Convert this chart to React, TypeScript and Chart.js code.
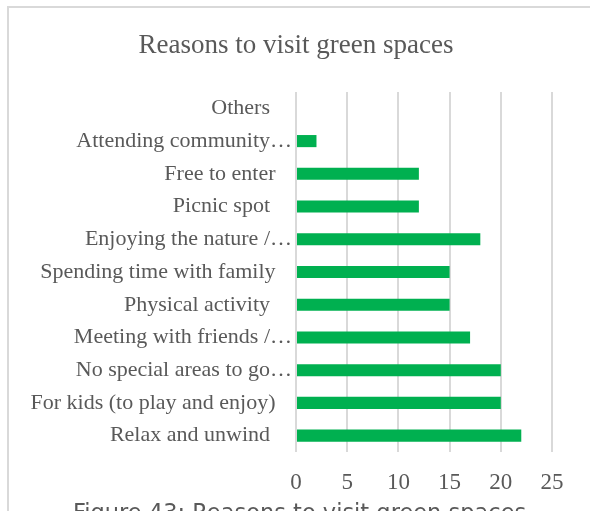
import React, { useEffect, useRef } from "react";
import { Chart, registerables } from "chart.js";

Chart.register(...registerables);

// Categories, top to bottom as displayed (Excel-truncated labels keep their ellipsis)
const categories: string[] = [
  "Others ",
  "Attending community…",
  "Free to enter",
  "Picnic spot ",
  "Enjoying the nature /…",
  "Spending time with family",
  "Physical activity ",
  "Meeting with friends /…",
  "No special areas to go…",
  "For kids (to play and enjoy)",
  "Relax and unwind ",
];

const counts: number[] = [0, 2, 12, 12, 18, 15, 15, 17, 20, 20, 22];

const xTicks: number[] = [0, 5, 10, 15, 20, 25];

const titleText = "Reasons to visit green spaces";
const captionText = "Figure 43: Reasons to visit green spaces";

const TEXT = "#595959";
const GRID = "#d9d9d9";
const GREEN = "#00B050";
const SERIF = "'Liberation Serif', 'Times New Roman', serif";

const titlePlugin = {
  id: "centredTitle",
  afterDraw(chart: any) {
    const ctx = chart.ctx;
    ctx.save();
    ctx.fillStyle = TEXT;
    ctx.font = `27px ${SERIF}`;
    ctx.textAlign = "center";
    ctx.textBaseline = "alphabetic";
    ctx.fillText(titleText, 296, 53);
    ctx.restore();
  },
};

export default function App() {
  const ref = useRef<HTMLCanvasElement | null>(null);

  useEffect(() => {
    if (!ref.current) return;
    const shown = categories.map((c) => (c.endsWith("…") ? c : c + "   "));
    const chart = new Chart(ref.current, {
      type: "bar",
      data: {
        labels: categories,
        datasets: [
          {
            label: titleText,
            data: counts,
            backgroundColor: GREEN,
            borderWidth: 0,
            categoryPercentage: 1,
            barPercentage: 0.37,
          },
        ],
      },
      options: {
        indexAxis: "y",
        responsive: false,
        animation: false,
        devicePixelRatio: 1,
        layout: { padding: { left: 0, right: 38, top: 92, bottom: 0 } },
        plugins: {
          legend: { display: false },
          tooltip: { enabled: false },
          title: { display: false },
        },
        scales: {
          x: {
            type: "linear",
            min: xTicks[0],
            max: xTicks[xTicks.length - 1],
            afterBuildTicks: (scale: any) => {
              scale.ticks = xTicks.map((v) => ({ value: v }));
            },
            afterFit: (scale: any) => {
              scale.height = 59;
            },
            grid: { color: GRID, lineWidth: 2, drawTicks: false },
            border: { display: false },
            ticks: {
              color: TEXT,
              font: { family: SERIF, size: 23 },
              padding: 17,
            },
          },
          y: {
            type: "category",
            afterFit: (scale: any) => {
              scale.width = 296;
            },
            grid: { display: false, drawTicks: false },
            border: { display: false },
            ticks: {
              autoSkip: false,
              color: TEXT,
              font: { family: SERIF, size: 22 },
              padding: 4,
              callback: (_v: any, i: number) => shown[i],
            },
          },
        },
      },
      plugins: [titlePlugin],
    } as any);
    return () => chart.destroy();
  }, []);

  return (
    <div
      style={{
        position: "absolute",
        left: 0,
        top: 0,
        width: 590,
        height: 511,
        overflow: "hidden",
        background: "#fff",
      }}
    >
      <div
        style={{
          position: "absolute",
          left: 7,
          top: 6,
          width: 700,
          height: 700,
          borderTop: `2px solid ${GRID}`,
          borderLeft: `2px solid ${GRID}`,
        }}
      />
      <canvas
        ref={ref}
        width={590}
        height={511}
        style={{ position: "absolute", left: 0, top: 0, width: 590, height: 511 }}
      />
      <div
        style={{
          position: "absolute",
          left: 73,
          top: 501,
          whiteSpace: "nowrap",
          fontFamily: "'DejaVu Sans', sans-serif",
          fontSize: 22.5,
          lineHeight: "22px",
          color: TEXT,
        }}
      >
        {captionText}
      </div>
    </div>
  );
}
